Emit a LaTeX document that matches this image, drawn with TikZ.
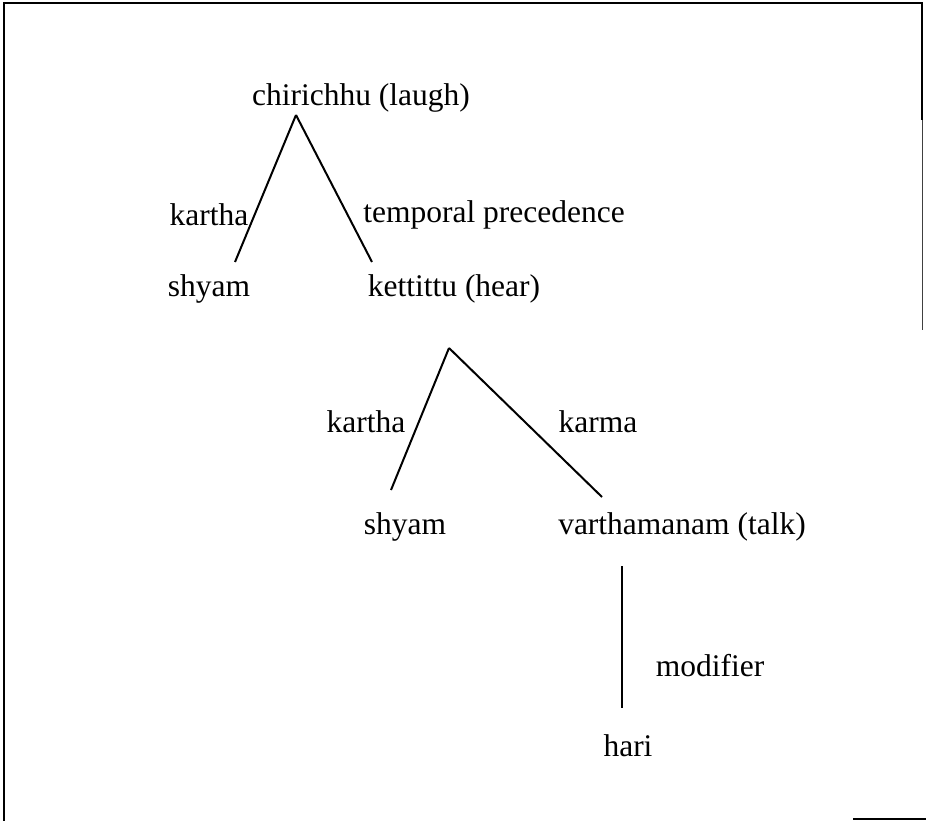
\documentclass[tikz,border=0pt]{standalone}
\usepackage{fontspec}
\setmainfont{Liberation Serif}
\begin{document}
\begin{tikzpicture}[x=1pt,y=-1pt,
  lbl/.style={inner sep=0pt,font=\fontsize{31.5}{36}\selectfont},
  edge/.style={line width=2pt},
  frame/.style={line width=2.6pt}]
\useasboundingbox (0,0) rectangle (926,821);
% frame
\draw[frame] (4,821) -- (4,3) -- (922,3) -- (922,120);
\draw[line width=1.3pt, black!75] (922.6,120) -- (922.6,330);
\draw[line width=1.4pt] (853,819) -- (926,819);
% nodes
\node[lbl] (chir) at (361,98) {chirichhu (laugh)};
\node[lbl] (k1) at (209,215) {kartha};
\node[lbl] (tp) at (494,215) {temporal precedence};
\node[lbl] (sh1) at (209,289) {shyam};
\node[lbl] (ket) at (454,289) {kettittu (hear)};
\node[lbl] (k2) at (366,422) {kartha};
\node[lbl] (karma) at (598,422) {karma};
\node[lbl] (sh2) at (405,527) {shyam};
\node[lbl] (var) at (682,527) {varthamanam (talk)};
\node[lbl] (mod) at (710,666) {modifier};
\node[lbl] (hari) at (628,746) {hari};
% connector end points
\coordinate (a1) at (296,115);
\coordinate (e1) at (235,262);
\coordinate (e2) at (372,262);
\coordinate (a2) at (449,348);
\coordinate (e3) at (391,490);
\coordinate (e4) at (602,497);
\coordinate (v1) at (622,566);
\coordinate (v2) at (622,708);
\draw[edge] (a1) -- (e1);
\draw[edge] (a1) -- (e2);
\draw[edge] (a2) -- (e3);
\draw[edge] (a2) -- (e4);
\draw[edge] (v1) -- (v2);
\end{tikzpicture}
\end{document}
